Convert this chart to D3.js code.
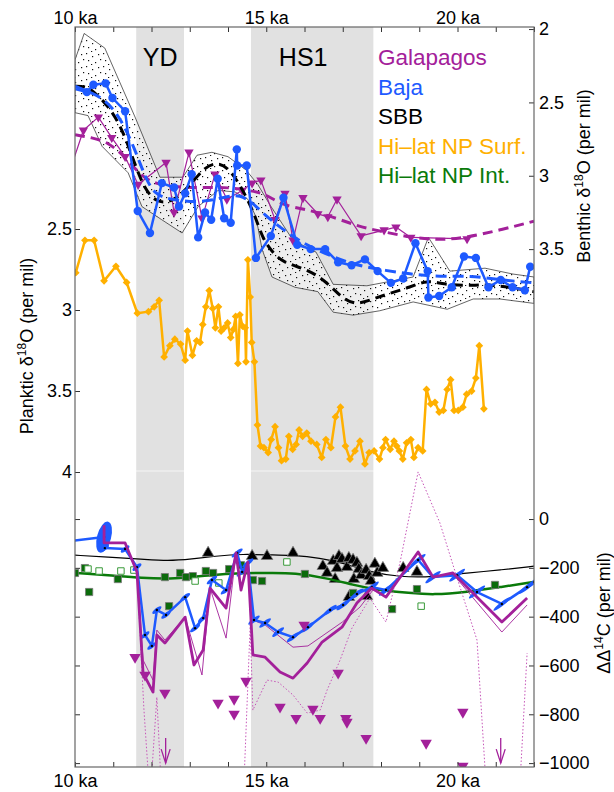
<!DOCTYPE html>
<meta charset="utf-8">
<style>
body { margin: 0; background: #fff; }
svg { font-family: "Liberation Sans", Arial, Helvetica, sans-serif; }
.axis text { font-size: 18px; fill: #000; }
.axis line { stroke: #333; }
.axis path { display: none; }
.legend { font-size: 22.5px; }
.band-label { font-size: 25px; }
.ylab { font-size: 18px; }
</style>
<svg width="614" height="792"></svg>
<script src="https://cdn.jsdelivr.net/npm/d3@7"></script>
<script>

// ---- data (ka, value) ----
var bands = [[11.6, 12.85, "YD"], [14.6, 17.8, "HS1"]];

// benthic d18O, right axis
var baja = [[9.87,2.40],[10.31,2.43],[10.48,2.38],[10.80,2.37],[10.98,2.47],[11.31,2.56],[11.64,3.24],[11.96,3.39],
  [12.27,3.05],[12.59,3.08],[12.72,3.21],[12.88,3.12],[13.05,2.99],[13.22,3.42],[13.40,3.25],[13.56,3.30],[13.73,3.02],
  [13.90,3.29],[14.07,3.32],[14.23,2.82],[14.24,2.93],[14.49,2.93],[14.73,3.56],[15.12,3.41],[15.45,3.15],[15.81,3.47],
  [16.16,3.50],[16.54,3.50],[16.88,3.59],[17.23,3.61],[17.58,3.57],[17.91,3.65],[18.26,3.73],[18.58,3.70],[18.90,3.46],
  [19.22,3.65],[19.24,3.83],[19.52,3.82],[19.85,3.76],[20.17,3.55],[20.48,3.56],[20.81,3.76],[21.13,3.71],[21.44,3.76],
  [21.76,3.78],[21.90,3.62],[22.15,3.63]];
var bajaFit = [[10.00,2.39],[10.39,2.43],[10.78,2.48],[11.18,2.60],[11.57,2.82],[11.83,3.01],[12.09,3.13],[12.48,3.16],
  [13.01,3.18],[13.53,3.17],[14.00,3.14],[14.31,3.13],[14.63,3.18],[14.97,3.27],[15.36,3.35],[15.88,3.45],[16.54,3.53],
  [17.19,3.60],[17.97,3.64],[18.76,3.67],[19.54,3.69],[20.33,3.68],[21.11,3.71],[22.00,3.73]];

var galapagos = [[9.82,3.00],[10.22,2.69],[10.61,2.60],[10.96,2.74],[11.31,2.87],[11.65,3.06],[12.38,2.91],[12.59,3.25],
  [12.98,2.84],[13.32,3.29],[13.66,2.99],[13.97,3.16],[14.37,3.10],[14.63,3.05],[14.86,3.03],[15.23,3.30],[15.49,3.12],
  [15.70,3.44],[15.96,3.15],[16.35,3.26],[16.61,3.28],[16.85,3.16],[17.48,3.41],[18.08,3.37],[18.39,3.35],[18.78,3.42],
  [20.25,3.43]];
var galapagosFit = [[10.00,2.72],[10.44,2.74],[10.86,2.77],[11.31,2.87],[11.75,3.01],[12.17,3.06],[12.80,3.08],[13.48,3.08],
  [14.10,3.08],[14.52,3.10],[14.97,3.12],[15.39,3.20],[16.07,3.23],[16.75,3.28],[17.45,3.35],[18.05,3.38],[18.76,3.42],
  [19.54,3.44],[20.25,3.42],[21.11,3.37],[22.00,3.31]];

var sbbFit = [[10.00,2.39],[10.26,2.39],[10.47,2.42],[10.86,2.52],[11.22,2.67],[11.52,2.89],[11.83,3.10],[12.14,3.18],
  [12.43,3.18],[12.69,3.15],[13.05,3.05],[13.40,2.94],[13.70,2.91],[14.00,2.94],[14.36,3.08],[14.71,3.27],[14.89,3.42],
  [15.15,3.52],[15.44,3.59],[15.96,3.63],[16.35,3.68],[16.72,3.76],[17.01,3.84],[17.36,3.88],[17.79,3.84],[18.24,3.80],
  [18.76,3.76],[19.20,3.71],[19.62,3.74],[20.25,3.75],[20.77,3.74],[21.37,3.76],[22.00,3.79]];
var sbbHigh = [[10.00,2.21],[10.24,2.03],[10.78,2.13],[11.57,2.60],[12.22,3.01],[12.82,3.01],[13.19,2.86],[13.58,2.84],
  [14.00,2.87],[14.47,2.96],[14.78,3.06],[15.10,3.20],[15.70,3.44],[16.30,3.52],[16.75,3.74],[17.63,3.75],[18.84,3.69],
  [19.24,3.42],[19.80,3.65],[20.72,3.63],[21.45,3.67],[22.00,3.69]];
var sbbLow = [[10.00,2.57],[10.34,2.59],[10.71,2.80],[11.39,2.98],[11.75,3.21],[12.27,3.30],[12.80,3.39],[13.22,3.21],
  [13.74,3.10],[14.18,3.11],[14.52,3.16],[14.73,3.28],[14.89,3.50],[15.15,3.69],[15.75,3.76],[16.35,3.79],[16.75,3.93],
  [17.27,3.95],[17.97,3.92],[18.84,3.86],[19.73,3.91],[20.41,3.84],[21.11,3.84],[22.00,3.87]];

// planktic d18O, left axis
var npSurf = [[10.02,2.77],[10.26,2.57],[10.50,2.57],[10.76,2.82],[11.07,2.73],[11.35,2.83],[11.63,3.02],[11.92,3.01],
  [12.07,2.98],[12.20,2.94],[12.33,3.29],[12.48,3.22],[12.61,3.18],[12.76,3.21],[12.88,3.31],[12.94,3.13],[13.07,3.28],
  [13.18,3.19],[13.27,3.20],[13.34,3.09],[13.42,2.98],[13.51,2.88],[13.60,2.99],[13.67,3.11],[13.75,2.98],[13.82,3.13],
  [13.90,3.11],[13.99,3.08],[14.07,3.17],[14.14,3.12],[14.20,3.04],[14.26,3.33],[14.31,3.03],[14.38,3.10],[14.45,3.11],
  [14.47,3.32],[14.52,2.69],[14.58,2.92],[14.62,3.20],[14.69,3.32],[14.77,3.71],[14.85,3.84],[14.94,3.85],[15.05,3.88],
  [15.13,3.80],[15.23,3.72],[15.32,3.85],[15.40,3.93],[15.51,3.92],[15.59,3.78],[15.69,3.86],[15.78,3.83],[15.86,3.74],
  [15.95,3.78],[16.06,3.76],[16.17,3.81],[16.32,3.83],[16.45,3.91],[16.56,3.80],[16.69,3.85],[16.81,3.66],[16.94,3.60],
  [17.07,3.84],[17.19,3.92],[17.32,3.87],[17.45,3.81],[17.58,3.95],[17.69,3.88],[17.82,3.87],[17.96,3.92],[18.05,3.85],
  [18.12,3.80],[18.24,3.86],[18.34,3.81],[18.41,3.84],[18.48,3.87],[18.57,3.92],[18.67,3.82],[18.78,3.80],[18.86,3.91],
  [18.97,3.85],[19.09,3.87],[19.19,3.49],[19.30,3.58],[19.41,3.57],[19.52,3.63],[19.63,3.62],[19.73,3.49],[19.82,3.43],
  [19.91,3.62],[20.02,3.62],[20.14,3.60],[20.24,3.52],[20.37,3.50],[20.48,3.42],[20.57,3.22],[20.69,3.61]];

// delta-delta 14C (per mil), lower right axis
var atmLine = [[10.00,-148],[10.86,-156],[11.75,-164],[12.43,-172],[13.06,-164],[13.66,-152],[14.37,-143],[15.23,-148],
  [15.70,-148],[16.41,-160],[17.01,-180],[17.71,-217],[18.50,-238],[19.36,-238],[20.25,-221],[21.11,-209],[22.00,-193]];
var sbbC = [[13.48,-139],[14.63,-152],[15.02,-152],[15.70,-139],[16.48,-193],[16.59,-221],[16.80,-246],[16.75,-172],
  [16.85,-201],[16.90,-152],[16.98,-164],[17.11,-197],[17.16,-160],[17.27,-168],[17.29,-246],[17.37,-180],[17.42,-205],
  [17.48,-230],[17.61,-209],[17.63,-316],[17.69,-234],[17.74,-254],[17.84,-184],[17.90,-221],[18.05,-201],[17.16,-320],
  [18.58,-201],[18.94,-217]];
var npIntLine = [[10.00,-221],[10.86,-230],[11.75,-242],[12.61,-246],[13.48,-230],[14.37,-221],[15.23,-221],[15.70,-221],
  [16.59,-242],[17.27,-270],[17.90,-291],[18.76,-303],[19.36,-311],[20.25,-299],[21.11,-279],[22.00,-258]];
var npIntFilled = [[10.00,-221],[10.26,-201],[10.37,-299],[11.12,-246],[12.35,-238],[12.46,-357],[12.75,-221],[12.90,-238],
  [13.08,-234],[13.42,-213],[13.61,-221],[14.03,-205],[14.34,-189],[14.65,-250],[14.89,-254],[16.01,-225],[17.27,-303],
  [18.29,-369],[18.94,-287],[20.98,-270]];
var npIntOpen = [[10.34,-205],[10.63,-213],[11.20,-213],[11.54,-209],[13.14,-254],[13.76,-262],[15.54,-176],[19.05,-357]];

var bajaC = [[9.87,-90],[10.76,-74],[10.78,-119],[11.31,-123],[11.62,-197],[11.83,-475],[12.01,-520],[12.14,-373],
  [12.38,-393],[12.88,-320],[13.14,-447],[13.35,-406],[13.58,-250],[13.95,-291],[14.24,-139],[14.37,-217],[14.52,-180],
  [14.68,-414],[14.97,-426],[15.31,-463],[15.70,-484],[16.09,-443],[16.67,-373],[17.01,-352],[17.37,-307],[17.76,-279],
  [18.13,-291],[18.97,-168],[19.36,-238],[19.99,-230],[20.51,-299],[21.16,-348],[21.82,-279],[22.00,-258]];

var galC = [[10.76,-25],[10.76,-98],[11.31,-98],[11.62,-217],[11.78,-631],[12.04,-709],[12.14,-475],[12.35,-508],
  [12.88,-402],[13.11,-598],[13.35,-537],[13.53,-283],[13.95,-365],[14.21,-139],[14.34,-291],[14.52,-176],[14.65,-557],
  [14.97,-566],[15.36,-627],[15.70,-652],[16.07,-590],[16.46,-504],[16.98,-443],[17.37,-344],[17.76,-283],[18.13,-320],
  [18.97,-135],[19.36,-238],[19.88,-221],[21.16,-422],[21.82,-324]];
var galCAlt = [[10.76,-25],[10.76,-98],[11.31,-98],[11.62,-217],[11.78,-578],[12.04,-660],[12.14,-455],[12.35,-496],
  [12.88,-402],[13.32,-639],[13.53,-283],[13.95,-488],[14.21,-139],[14.34,-291],[14.52,-176],[14.65,-414],[14.97,-434],
  [15.70,-525],[16.09,-520],[16.99,-422],[17.45,-361],[17.79,-291],[18.13,-316],[18.97,-139],[19.36,-238],[19.88,-225],
  [21.16,-463],[21.82,-352]];
var galCDot = [[11.62,-217],[11.80,-775],[11.96,-1150],[12.14,-730],[12.27,-1150],[14.40,-1150],[14.58,-434],[14.65,-783],
  [15.02,-660],[15.31,-668],[15.70,-721],[16.07,-795],[16.41,-783],[16.59,-701],[16.93,-578],[17.24,-447],[17.71,-324],
  [18.13,-422],[18.50,-176],[18.97,193],[19.54,-16],[19.99,-242],[20.51,-496],[20.77,-1150],[21.61,-1150],[21.82,-549]];
var galCPts = [[11.57,-566],[11.83,-639],[12.35,-713],[13.74,-754],[14.16,-738],[14.16,-799],[14.47,-664],[15.99,-434],
  [15.36,-770],[15.78,-816],[16.22,-779],[16.41,-816],[16.88,-631],[17.08,-816],[17.11,-832],[17.61,-898],[19.18,-918],
  [20.14,-791],[20.14,-1012]];
var galCArrows = [12.37, 21.13];

var legendNames = ["Galapagos", "Baja", "SBB", "Hi\u2013lat NP Surf.", "Hi\u2013lat NP Int."];
var colors = ["#a3209a", "#1e5aff", "#000000", "#ffb000", "#0a7a0a"];

// ---- layout ----
var svg = d3.select("svg");
var L = 75, R = 534, T = 27, B = 767;

var x = d3.scaleLinear().domain([10, 22]).range([L, R]);
var yBen = d3.scaleLinear().domain([1.986, 7.03]).range([T, B]);
var yPlk = d3.scaleLinear().domain([1.253, 5.821]).range([T, B]);
var yC = d3.scaleLinear().domain([2016, -1016]).range([T, B]);

var purple = colors[0], blue = colors[1], orange = colors[3], green = colors[4];

var defs = svg.append("defs");
defs.append("clipPath").attr("id", "clip")
  .append("rect").attr("x", L).attr("y", T).attr("width", R - L).attr("height", B - T);

var pat = defs.append("pattern").attr("id", "stipple")
  .attr("width", 17).attr("height", 13).attr("patternUnits", "userSpaceOnUse");
[[1,1],[7,4],[13,2],[3,8],[10,10],[15,7],[6,12]].forEach(function(p) {
  pat.append("rect").attr("x", p[0]).attr("y", p[1]).attr("width", 1.2).attr("height", 1.2).attr("fill", "#111");
});

// shaded intervals
svg.selectAll(".band").data(bands).enter().append("rect")
  .attr("class", "band")
  .attr("x", function(d) { return x(d[0]); })
  .attr("width", function(d) { return x(d[1]) - x(d[0]); })
  .attr("y", T).attr("height", B - T)
  .attr("fill", "#e1e1e1");
svg.append("line").attr("x1", L).attr("x2", R).attr("y1", yPlk(4) - 1).attr("y2", yPlk(4) - 1)
  .attr("stroke", "#fff").attr("stroke-width", 1).attr("opacity", 0.7);

svg.selectAll(".band-label").data(bands).enter().append("text")
  .attr("class", "band-label")
  .attr("x", function(d, i) { return i === 0 ? (x(d[0]) + x(d[1])) / 2 : (x(d[0]) + x(d[1])) / 2 - 9; })
  .attr("y", 66)
  .attr("text-anchor", "middle")
  .text(function(d) { return d[2]; });

var plot = svg.append("g").attr("clip-path", "url(#clip)");

function lineFor(yS, curve) {
  return d3.line().x(function(d) { return x(d[0]); }).y(function(d) { return yS(d[1]); })
    .curve(curve || d3.curveLinear);
}
function drawLine(data, yS, opts) {
  return plot.append("path").datum(data)
    .attr("d", lineFor(yS, opts.curve))
    .attr("fill", "none")
    .attr("stroke", opts.color)
    .attr("stroke-width", opts.width)
    .attr("stroke-dasharray", opts.dash || null)
    .attr("stroke-linejoin", "round");
}
function drawSymbols(data, yS, type, size, fill, stroke, rot, sw) {
  plot.append("g").selectAll("path").data(data).enter().append("path")
    .attr("d", d3.symbol().type(type).size(size))
    .attr("transform", function(d) { return "translate(" + x(d[0]) + "," + yS(d[1]) + ") rotate(" + (rot || 0) + ")"; })
    .attr("fill", fill)
    .attr("stroke", stroke || "none")
    .attr("stroke-width", sw || 1);
}

// ---- upper panel ----
var envPath = "M" + sbbHigh.map(function(d) { return x(d[0]) + "," + yBen(d[1]); }).join("L")
  + "L" + sbbLow.slice().reverse().map(function(d) { return x(d[0]) + "," + yBen(d[1]); }).join("L") + "Z";
plot.append("path").attr("d", envPath).attr("fill", "#fff").attr("opacity", 0.45);
plot.append("path").attr("d", envPath).attr("fill", "url(#stipple)");
plot.append("path").attr("d", envPath).attr("fill", "none").attr("stroke", "#222").attr("stroke-width", 0.7);

drawLine(galapagos, yBen, {color: purple, width: 1.2});
drawSymbols(galapagos, yBen, d3.symbolTriangle, 38, purple, null, 180);
drawLine(galapagosFit, yBen, {color: purple, width: 3, dash: "10,6", curve: d3.curveBasis});
drawLine(sbbFit, yBen, {color: "#000", width: 3, dash: "10,6", curve: d3.curveBasis});
drawLine(bajaFit, yBen, {color: blue, width: 3, dash: "11,6", curve: d3.curveBasis});
drawLine(baja, yBen, {color: blue, width: 2.5});
plot.append("g").selectAll("circle").data(baja).enter().append("circle")
  .attr("cx", function(d) { return x(d[0]); })
  .attr("cy", function(d) { return yBen(d[1]); })
  .attr("r", 4.2).attr("fill", blue);

drawLine(npSurf, yPlk, {color: orange, width: 2.5});
drawSymbols(npSurf, yPlk, d3.symbolSquare, 30, orange, null, 45);

// ---- lower panel ----
drawLine(atmLine, yC, {color: "#000", width: 1.2, curve: d3.curveBasis});
drawSymbols(sbbC, yC, d3.symbolTriangle, 58, "#000", "#777", 0, 0.8);
drawLine(npIntLine, yC, {color: green, width: 2.5, curve: d3.curveBasis});
drawSymbols(npIntFilled, yC, d3.symbolSquare, 52, "#0b6b0b", "#777", 0, 0.8);
drawSymbols(npIntOpen, yC, d3.symbolSquare, 42, "#fff", "#3a9a3a", 0, 1);

drawLine(galCDot, yC, {color: "#c655b8", width: 1, dash: "1.5,2"});
drawLine(galCAlt, yC, {color: purple, width: 0.9});

// error ellipses on Baja record
plot.append("g").selectAll("ellipse").data(bajaC.slice(1)).enter().append("ellipse")
  .attr("transform", function(d, i) {
    return "translate(" + x(d[0]) + "," + yC(d[1]) + ") rotate(" + (i === 0 ? 15 : -38) + ")";
  })
  .attr("rx", function(d, i) { return i === 0 ? 7 : 4.5 + (d[0] - 10) * 0.55; })
  .attr("ry", function(d, i) { return i === 0 ? 16 : 2; })
  .attr("fill", blue);
drawLine(bajaC, yC, {color: blue, width: 2.5});
plot.append("g").selectAll("circle").data(bajaC.slice(1)).enter().append("circle")
  .attr("cx", function(d) { return x(d[0]); })
  .attr("cy", function(d) { return yC(d[1]); })
  .attr("r", 1.2).attr("fill", "#000");

drawLine(galC, yC, {color: purple, width: 2.8});
drawSymbols(galCPts, yC, d3.symbolTriangle, 56, purple, null, 180);

var arrows = plot.append("g").attr("stroke", purple).attr("fill", "none").attr("stroke-width", 1.3);
galCArrows.forEach(function(a) {
  var ax = x(a), y0 = yC(-897), y1 = yC(-1000);
  arrows.append("path").attr("d", "M" + ax + "," + y0 + "L" + ax + "," + y1);
  arrows.append("path").attr("d", "M" + (ax - 4.5) + "," + (y1 - 14) + "L" + ax + "," + y1 + "L" + (ax + 4.5) + "," + (y1 - 14));
});

// ---- axes ----
var fmtKa = function(d) { return d % 5 === 0 ? d + " ka" : ""; };
var kaTicks = d3.range(10, 23, 1);
svg.append("g").attr("class", "axis").attr("transform", "translate(0," + T + ")")
  .call(d3.axisTop(x).tickValues(kaTicks).tickSize(-5).tickPadding(3).tickFormat(fmtKa));
svg.append("g").attr("class", "axis").attr("transform", "translate(0," + B + ")")
  .call(d3.axisBottom(x).tickValues(kaTicks).tickSize(-5).tickPadding(7).tickFormat(fmtKa));

svg.append("g").attr("class", "axis").attr("transform", "translate(" + L + ",0)")
  .call(d3.axisLeft(yPlk).tickValues([2.5, 3, 3.5, 4]).tickSize(-5).tickPadding(3).tickFormat(function(d) { return String(d); }));
svg.append("g").attr("class", "axis").attr("transform", "translate(" + L + ",0)")
  .call(d3.axisLeft(yC).tickValues([0, -200, -400, -600, -800, -1000]).tickSize(-5).tickFormat(""));
svg.append("g").attr("class", "axis").attr("transform", "translate(" + R + ",0)")
  .call(d3.axisRight(yBen).tickValues([2, 2.5, 3, 3.5]).tickSize(-5).tickPadding(5).tickFormat(function(d) { return String(d); }));
svg.append("g").attr("class", "axis").attr("transform", "translate(" + R + ",0)")
  .call(d3.axisRight(yC).tickValues([0, -200, -400, -600, -800, -1000]).tickSize(-5).tickPadding(5).tickFormat(d3.format("d")));

svg.append("rect").attr("x", L).attr("y", T).attr("width", R - L).attr("height", B - T)
  .attr("fill", "none").attr("stroke", "#666").attr("stroke-width", 1.2);

// axis titles
function ylabel(tx, ty, pre, sup, post) {
  var t = svg.append("text").attr("class", "ylab")
    .attr("transform", "translate(" + tx + "," + ty + ") rotate(-90)")
    .attr("text-anchor", "middle");
  t.append("tspan").text(pre);
  t.append("tspan").attr("dy", -7).attr("font-size", 12).text(sup);
  t.append("tspan").attr("dy", 7).text(post);
}
ylabel(33, 346, "Planktic \u03b4", "18", "O (per mil)");
ylabel(590, 176, "Benthic \u03b4", "18", "O (per mil)");
ylabel(610, 613, "\u0394\u0394", "14", "C (per mil)");

// legend
svg.selectAll(".legend").data(legendNames).enter().append("text")
  .attr("class", "legend")
  .attr("x", 378)
  .attr("y", function(d, i) { return 65 + i * 29.5; })
  .attr("fill", function(d, i) { return colors[i]; })
  .text(function(d) { return d; });

</script>
